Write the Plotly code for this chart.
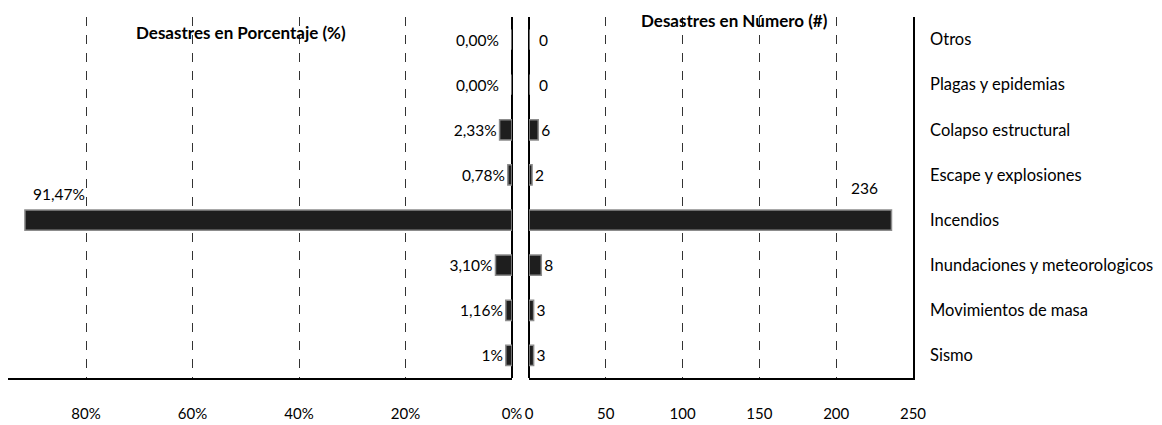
import plotly.graph_objects as go

# ---- data ----
categories = ["Sismo", "Movimientos de masa", "Inundaciones y meteorologicos", "Incendios",
              "Escape y explosiones", "Colapso estructural", "Plagas y epidemias", "Otros"]
pct_values = [1.16, 1.16, 3.10, 91.47, 0.78, 2.33, 0.00, 0.00]
pct_labels = ["1%", "1,16%", "3,10%", "91,47%", "0,78%", "2,33%", "0,00%", "0,00%"]
num_values = [3, 3, 8, 236, 2, 6, 0, 0]
num_labels = ["3", "3", "8", "236", "2", "6", "0", "0"]
pct_ticks = [80, 60, 40, 20, 0]
pct_ticktext = ["80%", "60%", "40%", "20%", "0%"]
num_ticks = [0, 50, 100, 150, 200, 250]
title_left = "Desastres en Porcentaje (%)"
title_right = "Desastres en Número (#)"

FONT = "Lato, Liberation Sans, sans-serif"
BAR = "#1e1e1e"
EDGE = "#8c8c8c"
LBL = dict(family=FONT, size=15.5, color="black")

big = max(range(len(num_values)), key=lambda i: num_values[i])
pct_text = [t if (i != big and pct_values[i] != 0) else "" for i, t in enumerate(pct_labels)]
num_text = [t if (i != big and num_values[i] != 0) else "" for i, t in enumerate(num_labels)]

fig = go.Figure()
fig.add_trace(go.Bar(
    x=pct_values, y=categories, orientation="h", xaxis="x", yaxis="y",
    width=0.45, marker=dict(color=BAR, line=dict(color=EDGE, width=1.5)),
    text=pct_text, textposition="outside", cliponaxis=False,
    textfont=LBL, showlegend=False))
fig.add_trace(go.Bar(
    x=num_values, y=categories, orientation="h", xaxis="x2", yaxis="y",
    width=0.45, marker=dict(color=BAR, line=dict(color=EDGE, width=1.5)),
    text=num_text, textposition="outside", cliponaxis=False,
    textfont=LBL, showlegend=False))

# labels of zero-valued bars
for i, v in enumerate(pct_values):
    if v == 0:
        fig.add_annotation(x=v, y=categories[i], xref="x", yref="y", text=pct_labels[i],
                           showarrow=False, xanchor="right", yanchor="middle",
                           xshift=-11, font=LBL)
for i, v in enumerate(num_values):
    if v == 0:
        fig.add_annotation(x=v, y=categories[i], xref="x2", yref="y", text=num_labels[i],
                           showarrow=False, xanchor="left", yanchor="middle",
                           xshift=8, font=LBL)

# labels of the largest bar sit above it
fig.add_annotation(x=pct_values[big], y=categories[big], xref="x", yref="y",
                   text=pct_labels[big], showarrow=False, xanchor="left", yanchor="middle",
                   xshift=6, yshift=26, font=LBL)
fig.add_annotation(x=num_values[big], y=categories[big], xref="x2", yref="y",
                   text=num_labels[big], showarrow=False, xanchor="right", yanchor="middle",
                   xshift=-11, yshift=32, font=LBL)

TF = dict(family=FONT, size=17, color="black")
fig.add_annotation(x=0.2575, y=0.9557, xref="paper", yref="paper", text="<b>%s</b>" % title_left,
                   showarrow=False, xanchor="center", yanchor="middle", font=TF)
fig.add_annotation(x=0.8033, y=0.989, xref="paper", yref="paper", text="<b>%s</b>" % title_right,
                   showarrow=False, xanchor="center", yanchor="middle", font=TF)

grid = dict(showgrid=True, gridcolor="#333333", gridwidth=1, griddash="dash",
            zeroline=True, zerolinecolor="black", zerolinewidth=1.5,
            showline=True, linecolor="black", linewidth=1.5, ticks="",
            automargin=False, ticklabelstandoff=21,
            tickfont=dict(family=FONT, size=15, color="black"))

# the page body adds an 8px offset; the figure is sized so it fits the window
fig.update_layout(
    width=1154, height=417,
    margin=dict(l=0, r=249, t=9, b=47, autoexpand=False),
    paper_bgcolor="white", plot_bgcolor="white",
    xaxis=dict(domain=[0, 0.5569], range=[94.65, 0], tickvals=pct_ticks,
               ticktext=pct_ticktext, anchor="y", **grid),
    xaxis2=dict(domain=[0.5757, 1], range=[0, 250], tickvals=num_ticks,
                anchor="y", **grid),
    yaxis=dict(anchor="x2", side="right", type="category",
               categoryorder="array", categoryarray=categories,
               range=[-0.5, 7.5], showgrid=False, zeroline=False, automargin=False,
               showline=True, linecolor="black", linewidth=1.5, ticks="",
               ticklabelstandoff=12,
               tickfont=dict(family=FONT, size=16.5, color="black")),
)

fig.write_html("out.html")
